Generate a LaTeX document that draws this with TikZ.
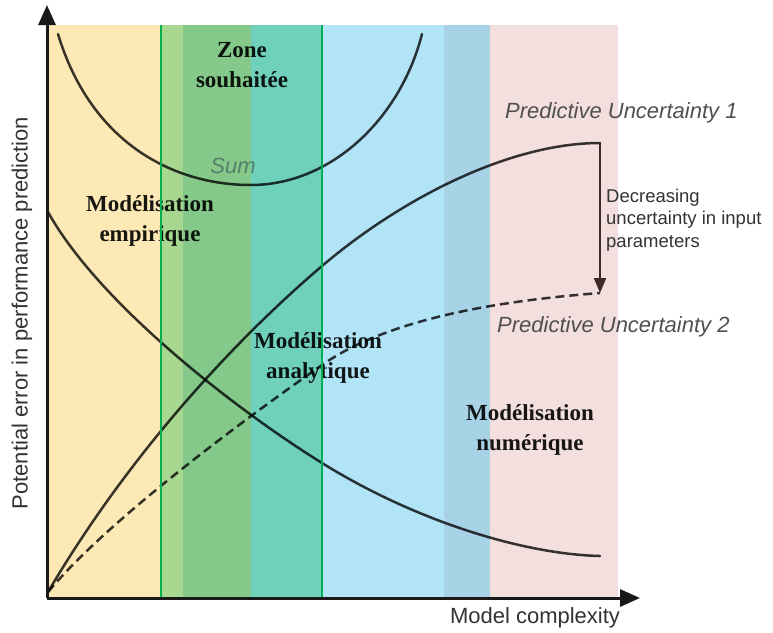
\documentclass[tikz,border=0pt]{standalone}
\usepackage{fontspec}
\setmainfont{Liberation Serif}
\newfontfamily\sansf{Liberation Sans}
\usetikzlibrary{arrows.meta}
\definecolor{cyel}{HTML}{FCE9B5}
\definecolor{clgreen}{HTML}{A8D890}
\definecolor{cgreen}{HTML}{84C98A}
\definecolor{cteal}{HTML}{6FD1BB}
\definecolor{clblue}{HTML}{B2E4F7}
\definecolor{cbgray}{HTML}{A8D2E5}
\definecolor{cpink}{HTML}{F3DFDD}
\definecolor{cline}{HTML}{00B050}
\definecolor{csum}{HTML}{55806A}
\definecolor{cgraytxt}{HTML}{505050}
\definecolor{cdark}{HTML}{333333}
\definecolor{carrow}{HTML}{3C2A28}
\begin{document}
\begin{tikzpicture}[x=1pt,y=-1pt,
  curve/.style={line width=2.5pt, draw=black, draw opacity=0.78, line cap=round, line join=round},
  dashcurve/.style={curve, dash pattern=on 9pt off 5pt, line cap=butt},
  boldlab/.style={font=\fontsize{23}{30}\selectfont\bfseries, align=center, text opacity=0.9, inner sep=0pt},
  sanslab/.style={font=\sansf\fontsize{22}{26}\selectfont, inner sep=0pt},
  zoneline/.style={draw=cline, line width=2pt},
  axis/.style={draw=black!90, line width=3pt, -{Triangle[length=20pt,width=17pt]}},
]
\useasboundingbox (0,0) rectangle (773,632);
\fill[white] (0,0) rectangle (773,632);
% background zones
\fill[cyel]    (47,25)  rectangle (161,598);
\fill[clgreen] (161,25) rectangle (183,598);
\fill[cgreen]  (183,25) rectangle (251,598);
\fill[cteal]   (251,25) rectangle (322,598);
\fill[clblue]  (322,25) rectangle (444,598);
\fill[cbgray]  (444,25) rectangle (490,598);
\fill[cpink]   (490,25) rectangle (618,598);
% coordinates
\coordinate (O) at (47,598);
\coordinate (Ytip) at (47,5);
\coordinate (Xtip) at (640,598);
\coordinate (pu1end) at (600,143);
\coordinate (pu2end) at (600,293);
% Sum curve
\draw[curve] (58,34) .. controls (90,140) and (170,185) .. (251,185)
                     .. controls (330,185) and (400,120) .. (422,34);
% decreasing curve
\draw[curve] (48,212) .. controls (98,302) and (232,407) .. (322,463)
                      .. controls (412,519) and (520,554) .. (600,556);
% predictive uncertainty 1
\draw[curve] (48,592) .. controls (133,447.5) and (242,334) .. (322,266)
                      .. controls (402,198) and (510,143) .. (pu1end);
% predictive uncertainty 2 (dashed)
\draw[dashcurve] (48,592) .. controls (108,520) and (242,421) .. (322,365)
                          .. controls (392,316) and (510,300) .. (pu2end);
% decreasing arrow
\draw[draw=carrow, line width=2pt, -{Triangle[length=15pt,width=12pt]}] (pu1end) -- (pu2end);
% labels
\node[boldlab] (zone) at (242,65) {Zone\\souhaitée};
\node[boldlab] (emp) at (150,221) {Modélisation\\empirique};
\node[boldlab] (ana) at (318,358) {Modélisation\\analytique};
\node[boldlab] (num) at (530,430) {Modélisation\\numérique};
\node[sanslab, font=\sansf\itshape\fontsize{22}{26}\selectfont, text=csum] (sum) at (233,166) {Sum};
\node[sanslab, font=\sansf\itshape\fontsize{22}{26}\selectfont, text=cgraytxt, anchor=west] (pu1) at (505,113) {Predictive Uncertainty 1};
\node[sanslab, font=\sansf\itshape\fontsize{22}{26}\selectfont, text=cgraytxt, anchor=west] (pu2) at (497,327) {Predictive Uncertainty 2};
\node[sanslab, font=\sansf\fontsize{18.5}{22.5}\selectfont, text=cdark, anchor=west, align=left] (dec) at (606,220) {Decreasing\\uncertainty in input\\parameters};
\node[sanslab, text=cdark] (xlab) at (535,618) {Model complexity};
\node[sanslab, text=cdark, rotate=90] (ylab) at (22,313) {Potential error in performance prediction};
% zone lines
\draw[zoneline] (161,25) -- (161,598);
\draw[zoneline] (322,25) -- (322,598);
% axes
\draw[axis] (O) -- (Ytip);
\draw[axis] (O) -- (Xtip);
\end{tikzpicture}
\end{document}
